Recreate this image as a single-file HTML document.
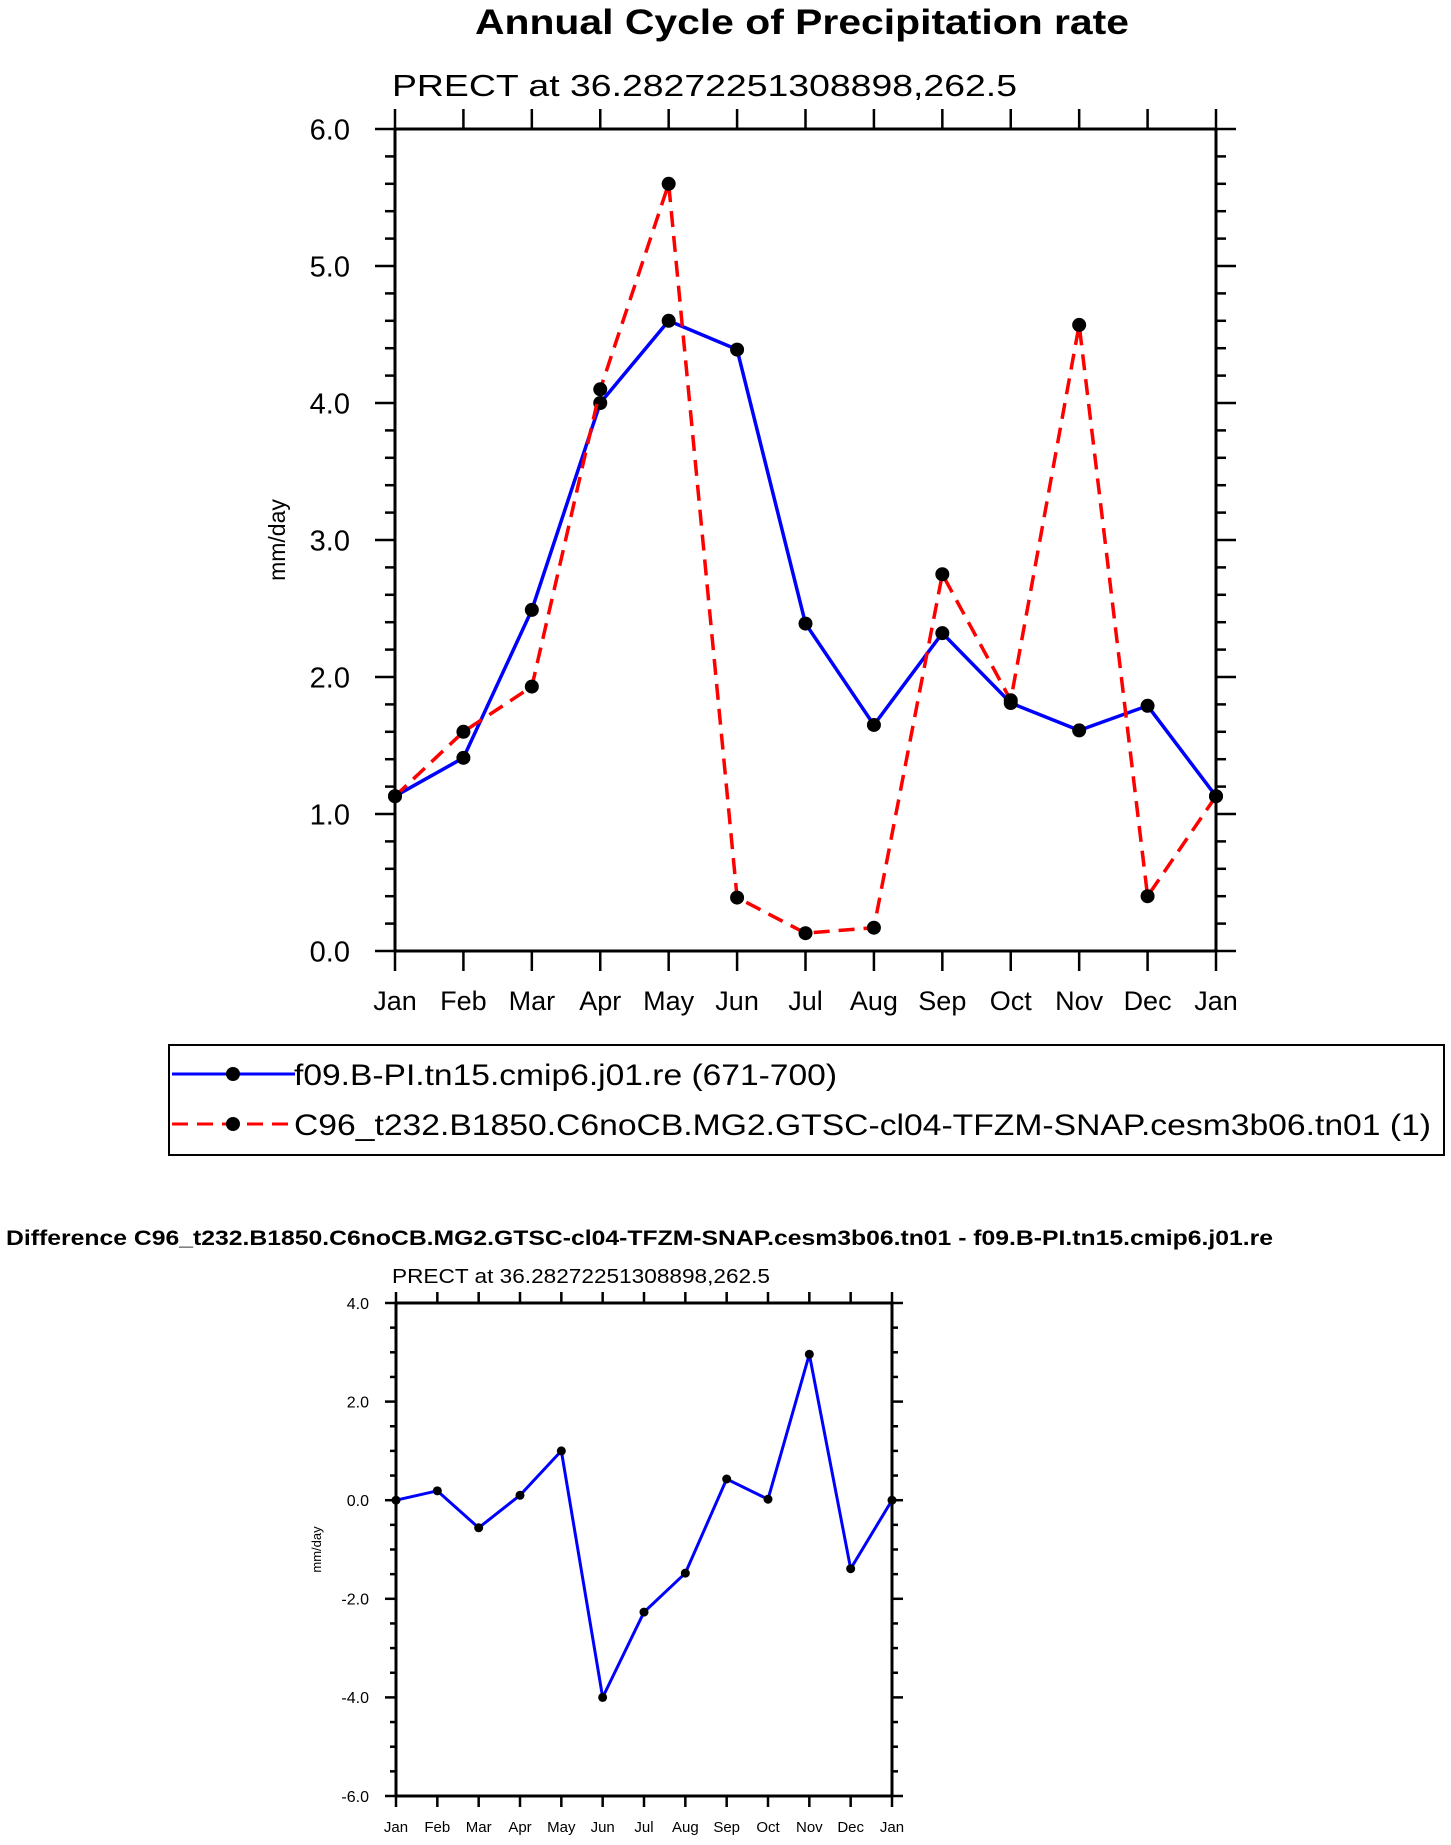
<!DOCTYPE html>
<html><head><meta charset="utf-8"><style>
html,body{margin:0;padding:0;background:#fff}
svg{display:block;font-family:"Liberation Sans",Arial,sans-serif}
</style></head><body>
<svg id="chart" width="1451" height="1845" viewBox="0 0 1451 1845" xmlns="http://www.w3.org/2000/svg">
<text x="475" y="34" textLength="654" lengthAdjust="spacingAndGlyphs" font-size="35" font-weight="bold">Annual Cycle of Precipitation rate</text>
<text x="392" y="96" textLength="625" lengthAdjust="spacingAndGlyphs" font-size="31">PRECT at 36.28272251308898,262.5</text>
<g id="top"></g>
<g>
<rect x="169" y="1045" width="1275" height="110" fill="none" stroke="#000" stroke-width="2"/>
<g>
<line x1="172" y1="1074" x2="295" y2="1074" stroke="#0000ff" stroke-width="3"/>
<circle cx="233" cy="1074" r="7" fill="#000"/>
<text x="294" y="1085" textLength="543" lengthAdjust="spacingAndGlyphs" font-size="30">f09.B-PI.tn15.cmip6.j01.re (671-700)</text>
</g>
<g>
<line x1="172" y1="1124" x2="295" y2="1124" stroke="#ff0000" stroke-width="3" stroke-dasharray="16,9"/>
<circle cx="233" cy="1124" r="7" fill="#000"/>
<text x="294" y="1135" textLength="1137" lengthAdjust="spacingAndGlyphs" font-size="30">C96_t232.B1850.C6noCB.MG2.GTSC-cl04-TFZM-SNAP.cesm3b06.tn01 (1)</text>
</g>
</g>
<text x="6" y="1245" textLength="1267" lengthAdjust="spacingAndGlyphs" font-size="21" font-weight="bold">Difference C96_t232.B1850.C6noCB.MG2.GTSC-cl04-TFZM-SNAP.cesm3b06.tn01 - f09.B-PI.tn15.cmip6.j01.re</text>
<text x="392" y="1283" textLength="378" lengthAdjust="spacingAndGlyphs" font-size="20">PRECT at 36.28272251308898,262.5</text>
<g id="bot"></g>
</svg>
<script>
const months = ["Jan","Feb","Mar","Apr","May","Jun","Jul","Aug","Sep","Oct","Nov","Dec","Jan"];
const seriesF09 = [1.13,1.41,2.49,4.0,4.6,4.39,2.39,1.65,2.32,1.81,1.61,1.79,1.13];
const seriesC96 = [1.13,1.60,1.93,4.10,5.60,0.39,0.13,0.17,2.75,1.83,4.57,0.40,1.13];
const seriesDiff = [0,0.19,-0.56,0.10,1.0,-4.0,-2.27,-1.48,0.43,0.02,2.96,-1.39,0];
const topTicks = ["0.0","1.0","2.0","3.0","4.0","5.0","6.0"];
const botTicks = ["-6.0","-4.0","-2.0","0.0","2.0","4.0"];
const NS="http://www.w3.org/2000/svg";
function mk(p,tag,a){const e=document.createElementNS(NS,tag);for(const k in a)e.setAttribute(k,a[k]);p.appendChild(e);return e;}
function panel(g,o){
  const {L,R,T,B,ymin,ymax,minor,ticks,fs,yfs,ygap,mj,mn,lw,labOff,ylab,ylabFs,ylabX,r,name}=o;
  const x=i=>L+(R-L)*i/(months.length-1);
  const y=v=>B-(B-T)*(v-ymin)/(ymax-ymin);
  const frame=mk(g,'rect',{x:L,y:T,width:R-L,height:B-T,fill:'none',stroke:'#000','stroke-width':lw});
  
  
  for(let v=ymin;v<=ymax+1e-6;v+=minor){
    const isMaj=Math.abs(v/(ticks.step)-Math.round(v/ticks.step))<1e-6;
    const len=isMaj?mj:mn;
    mk(g,'line',{x1:L-len,y1:y(v),x2:L,y2:y(v),stroke:'#000','stroke-width':lw-0.5});
    mk(g,'line',{x1:R,y1:y(v),x2:R+len,y2:y(v),stroke:'#000','stroke-width':lw-0.5});
  }
  ticks.labels.forEach(t=>{
    const tl=mk(g,'text',{x:L-ygap,y:y(parseFloat(t))+yfs*0.36,'text-anchor':'end','font-size':yfs});
    tl.textContent=t;
    
    
  });
  months.forEach((m,i)=>{
    mk(g,'line',{x1:x(i),y1:B,x2:x(i),y2:B+mj,stroke:'#000','stroke-width':lw-0.5});
    mk(g,'line',{x1:x(i),y1:T-mj,x2:x(i),y2:T,stroke:'#000','stroke-width':lw-0.5});
    const tl=mk(g,'text',{x:x(i),y:B+labOff,'text-anchor':'middle','font-size':fs});
    tl.textContent=m;
    
    
  });
  const yl=mk(g,'text',{x:ylabX,y:(T+B)/2,'text-anchor':'middle','font-size':ylabFs,transform:`rotate(-90 ${ylabX} ${(T+B)/2})`});
  yl.textContent=ylab;
  
  
  o.series.forEach(s=>{
    const pl=mk(g,'polyline',{points:s.d.map((v,i)=>x(i)+','+y(v)).join(' '),fill:'none',stroke:s.c,'stroke-width':s.w,'stroke-dasharray':s.dash||'none'});
    
    
    s.d.forEach((v,i)=>{
      const c=mk(g,'circle',{cx:x(i),cy:y(v),r:r,fill:'#000'});
      
      
    });
  });
}
panel(document.getElementById('top'),{L:395,R:1216,T:129,B:951,ymin:0,ymax:6,minor:0.2,
  ticks:{step:1,labels:topTicks},fs:27,yfs:29,ygap:45,mj:20,mn:10,lw:3,labOff:59,ylab:"mm/day",ylabFs:23,ylabX:285,r:7,name:'main',
  series:[{d:seriesF09,c:'#0000ff',w:3.5,n:'line-f09'},{d:seriesC96,c:'#ff0000',w:3.5,dash:'16,9',n:'line-c96'}]});
panel(document.getElementById('bot'),{L:396,R:892,T:1303,B:1796,ymin:-6,ymax:4,minor:0.5,
  ticks:{step:2,labels:botTicks},fs:15,yfs:16,ygap:27,mj:11,mn:6,lw:3,labOff:36,ylab:"mm/day",ylabFs:13,ylabX:321,r:4.5,name:'diff',
  series:[{d:seriesDiff,c:'#0000ff',w:3,n:'line-difference'}]});
</script>
</body></html>
